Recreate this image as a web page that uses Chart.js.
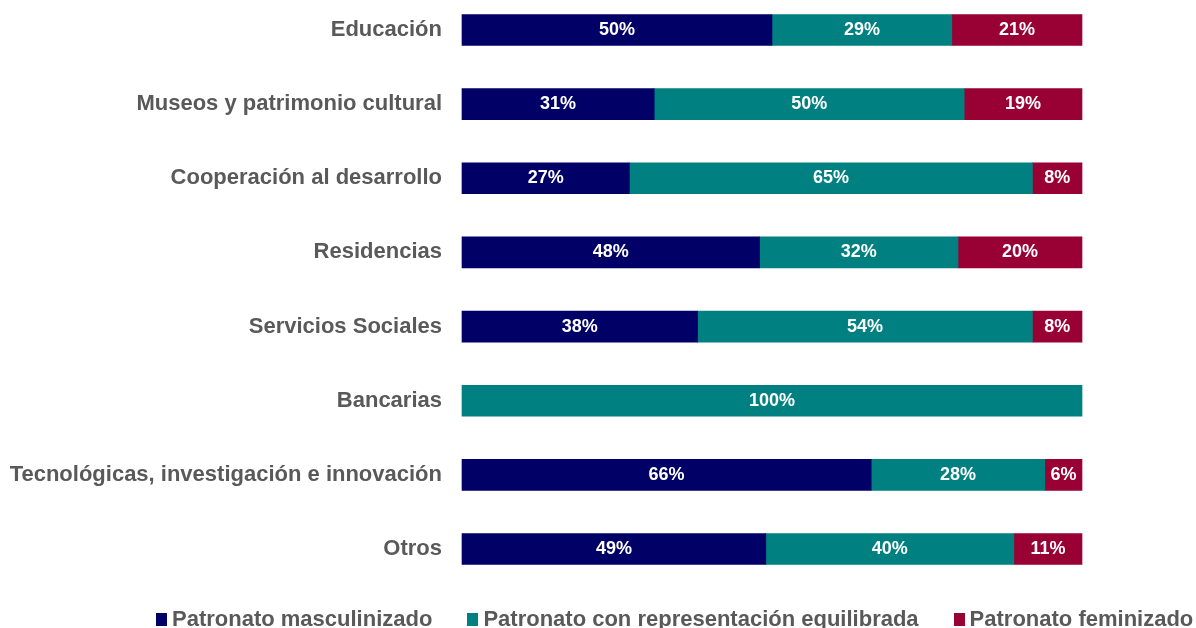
<!DOCTYPE html>
<html lang="es">
<head>
<meta charset="utf-8">
<title>Patronatos por sector</title>
<script src="https://cdn.jsdelivr.net/npm/chart.js@4"></script>
<style>
    html, body { margin: 0; padding: 0; background: #fff; overflow: hidden; }
    #wrap { position: relative; width: 1196px; height: 628px; overflow: hidden; }
    #legend {
        position: absolute; left: 156px; top: 606px;
        font: bold 22px/25px "Liberation Sans", Arial, sans-serif; color: #595959;
        white-space: nowrap;
    }
    #legend span.item { margin-right: 35px; }
    #legend span.box { display: inline-block; width: 11px; height: 13px; margin-right: 5px; }
</style>
</head>
<body>
<div id="wrap">
    <canvas id="sectorChart" width="1196" height="628"></canvas>
    <div id="legend"></div>
</div>
<script>
const sectors = [
    'Educación',
    'Museos y patrimonio cultural',
    'Cooperación al desarrollo',
    'Residencias',
    'Servicios Sociales',
    'Bancarias',
    'Tecnológicas, investigación e innovación',
    'Otros'
];
const masculinizado = [50, 31, 27, 48, 38, 0, 66, 49];
const equilibrada = [29, 50, 65, 32, 54, 100, 28, 40];
const feminizado = [21, 19, 8, 20, 8, 0, 6, 11];

const seriesNames = ['Patronato masculinizado', 'Patronato con representación equilibrada', 'Patronato feminizado'];
const seriesColors = ['#000066', '#008080', '#990033'];

const FONT = '"Liberation Sans", Arial, sans-serif';

// Percent labels in the middle of each segment
const segmentLabels = {
    id: 'segmentLabels',
    afterDatasetsDraw(chart) {
        const ctx = chart.ctx;
        ctx.save();
        ctx.fillStyle = '#ffffff';
        ctx.font = 'bold 18px ' + FONT;
        ctx.textAlign = 'center';
        ctx.textBaseline = 'middle';
        chart.data.datasets.forEach((ds, i) => {
            const meta = chart.getDatasetMeta(i);
            meta.data.forEach((bar, j) => {
                const v = ds.data[j];
                if (!v) return;
                const p = bar.getProps(['x', 'y', 'base'], true);
                ctx.fillText(v + '%', (p.x + p.base) / 2, p.y);
            });
        });
        ctx.restore();
    }
};

// zero shares get no segment at all
const datasets = [masculinizado, equilibrada, feminizado].map((values, i) => ({
    label: seriesNames[i],
    data: values.map(v => v || null),
    backgroundColor: seriesColors[i],
    borderWidth: 0,
    barThickness: 31,
    clip: false
}));

const chart = new Chart(document.getElementById('sectorChart'), {
    type: 'bar',
    data: { labels: sectors, datasets: datasets },
    plugins: [segmentLabels],
    options: {
        indexAxis: 'y',
        responsive: false,
        animation: false,
        layout: { padding: { top: 30, bottom: 79, right: 114, left: 0 } },
        plugins: {
            legend: { display: false },
            tooltip: { enabled: false }
        },
        scales: {
            x: {
                stacked: true,
                min: 0,
                max: 100,
                display: false
            },
            y: {
                stacked: true,
                offset: false,
                grid: { display: false, drawTicks: false },
                border: { display: false },
                ticks: {
                    padding: 20,
                    color: '#595959',
                    font: { family: FONT, size: 22, weight: 'bold' }
                },
                afterFit(scale) {
                    scale.width = 462;
                    scale.paddingTop = 0;
                    scale.paddingBottom = 0;
                }
            }
        }
    }
});

// Legend built from the chart's own datasets
const legend = document.getElementById('legend');
chart.data.datasets.forEach(ds => {
    const item = document.createElement('span');
    item.className = 'item';
    item.innerHTML = '<span class="box" style="background:' + ds.backgroundColor + '"></span>' + ds.label;
    legend.appendChild(item);
});
</script>
</body>
</html>
